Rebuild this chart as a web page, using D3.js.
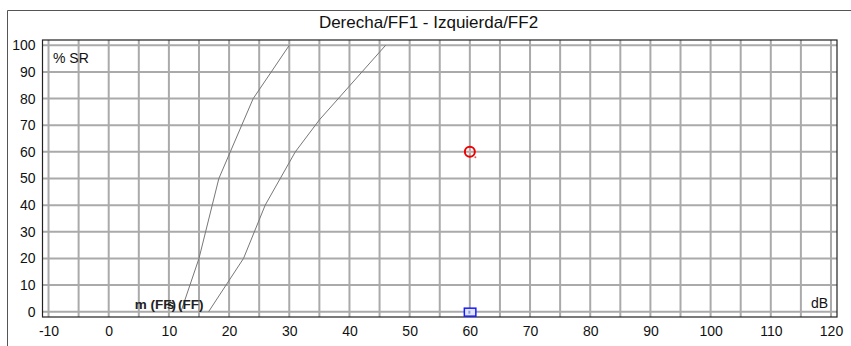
<!DOCTYPE html>
<html>
<head>
<meta charset="utf-8">
<script src="https://cdn.jsdelivr.net/npm/d3@7"></script>
<style>
  html, body { margin: 0; padding: 0; background: #fff; }
  svg { display: block; font-family: "Liberation Sans", Arial, Helvetica, sans-serif; }
</style>
</head>
<body>
<svg id="chart" width="851" height="346"></svg>
<script>
// Speech audiometry chart: % speech recognition vs. level (dB)
const title = "Derecha/FF1 - Izquierda/FF2";
const xTickLabels = [-10, 0, 10, 20, 30, 40, 50, 60, 70, 80, 90, 100, 110, 120];
const yTickLabels = [0, 10, 20, 30, 40, 50, 60, 70, 80, 90, 100];
const xGrid = [-10, -5, 0, 5, 10, 15, 20, 25, 30, 35, 40, 45, 50, 55, 60, 65, 70, 75, 80, 85, 90, 95, 100, 105, 110, 115, 120];

// Reference curves (dB, %)
const curveNames = ["m (FF)", "s (FF)"];
const curveM_dB  = [12, 15, 18.3, 24, 30];
const curveM_pct = [0, 20, 50, 80, 100];
const curveS_dB  = [16.6, 22.4, 26, 31, 35, 46];
const curveS_pct = [0, 20, 40, 60, 72, 100];

// Measured points
const rightEar = [{ dB: 60, pct: 60 }];
const leftEar  = [{ dB: 60, pct: 0 }];

const svg = d3.select("#chart");
const x = d3.scaleLinear().domain([-11, 121]).range([42.5, 837]);
const y = d3.scaleLinear().domain([-2, 102]).range([317, 40]);

// outer frame
svg.append("path")
  .attr("d", "M7.5,346 V10.5 H851")
  .attr("fill", "none").attr("stroke", "#555").attr("stroke-width", 1);

svg.append("text")
  .attr("x", 428.5).attr("y", 28)
  .attr("text-anchor", "middle")
  .attr("font-size", 17).attr("fill", "#111")
  .text(title);

// grid
const grid = svg.append("g");
grid.selectAll("line.v").data(xGrid).join("line")
  .attr("x1", d => x(d)).attr("x2", d => x(d))
  .attr("y1", y.range()[1]).attr("y2", y.range()[0])
  .attr("stroke", "#aaa").attr("stroke-width", 2);
grid.selectAll("line.h").data(yTickLabels).join("line")
  .attr("y1", d => y(d)).attr("y2", d => y(d))
  .attr("x1", x.range()[0]).attr("x2", x.range()[1])
  .attr("stroke", "#aaa").attr("stroke-width", 2);

// plot border
svg.append("rect")
  .attr("x", x.range()[0]).attr("y", y.range()[1])
  .attr("width", x.range()[1] - x.range()[0])
  .attr("height", y.range()[0] - y.range()[1])
  .attr("fill", "none").attr("stroke", "#222").attr("stroke-width", 1.2);

// axes (labels only)
const fmt = d => String(d);
const xAxis = svg.append("g")
  .attr("transform", `translate(0,${y.range()[0]})`)
  .call(d3.axisBottom(x).tickValues(xTickLabels).tickFormat(fmt).tickSize(0).tickPadding(9));
xAxis.select(".domain").remove();
xAxis.selectAll("text").attr("font-size", 14).attr("fill", "#111")
  .attr("font-family", "Liberation Sans, Arial, sans-serif");

const yAxis = svg.append("g")
  .attr("transform", `translate(${x.range()[0]},0)`)
  .call(d3.axisLeft(y).tickValues(yTickLabels).tickFormat(fmt).tickSize(0).tickPadding(7));
yAxis.select(".domain").remove();
yAxis.selectAll("text").attr("font-size", 14).attr("fill", "#111")
  .attr("font-family", "Liberation Sans, Arial, sans-serif");

svg.append("text").attr("x", 53).attr("y", 62.5)
  .attr("font-size", 14).attr("fill", "#111").text("% SR");
svg.append("text").attr("x", 828).attr("y", 307.5)
  .attr("text-anchor", "end")
  .attr("font-size", 14).attr("fill", "#111").text("dB");

// reference curves
const line = d3.line().x(d => x(d[0])).y(d => y(d[1]));
const curves = [
  d3.zip(curveM_dB, curveM_pct),
  d3.zip(curveS_dB, curveS_pct)
];
curves.forEach((pts, i) => {
  svg.append("path").datum(pts)
    .attr("d", line)
    .attr("fill", "none").attr("stroke", "#777").attr("stroke-width", 1);
  svg.append("text")
    .attr("x", x(pts[0][0]) - 5).attr("y", y(pts[0][1]) - 2.5)
    .attr("text-anchor", "end")
    .attr("font-size", 13.5).attr("font-weight", "bold").attr("fill", "#222")
    .text(curveNames[i]);
});

// right ear: red circle
const r = svg.append("g");
rightEar.forEach(p => {
  r.append("circle").attr("cx", x(p.dB)).attr("cy", y(p.pct)).attr("r", 5)
    .attr("fill", "none").attr("stroke", "#e00").attr("stroke-width", 2);
  r.append("rect").attr("x", x(p.dB) - 0.5).attr("y", y(p.pct) - 2.5)
    .attr("width", 1).attr("height", 4).attr("fill", "#f4a0a0");
  r.append("circle").attr("cx", x(p.dB) + 5.5).attr("cy", y(p.pct) + 5.5).attr("r", 1)
    .attr("fill", "#e55");
});

// left ear: blue square
const l = svg.append("g");
leftEar.forEach(p => {
  l.append("rect").attr("x", x(p.dB) - 5.5).attr("y", y(p.pct) - 3.5)
    .attr("width", 11.5).attr("height", 8)
    .attr("fill", "#dfe6fb").attr("stroke", "#1a1aff").attr("stroke-width", 1.5);
  l.append("rect").attr("x", x(p.dB) - 1.5).attr("y", y(p.pct) - 1)
    .attr("width", 2).attr("height", 3).attr("fill", "#8a9ad8");
});
</script>
</body>
</html>
